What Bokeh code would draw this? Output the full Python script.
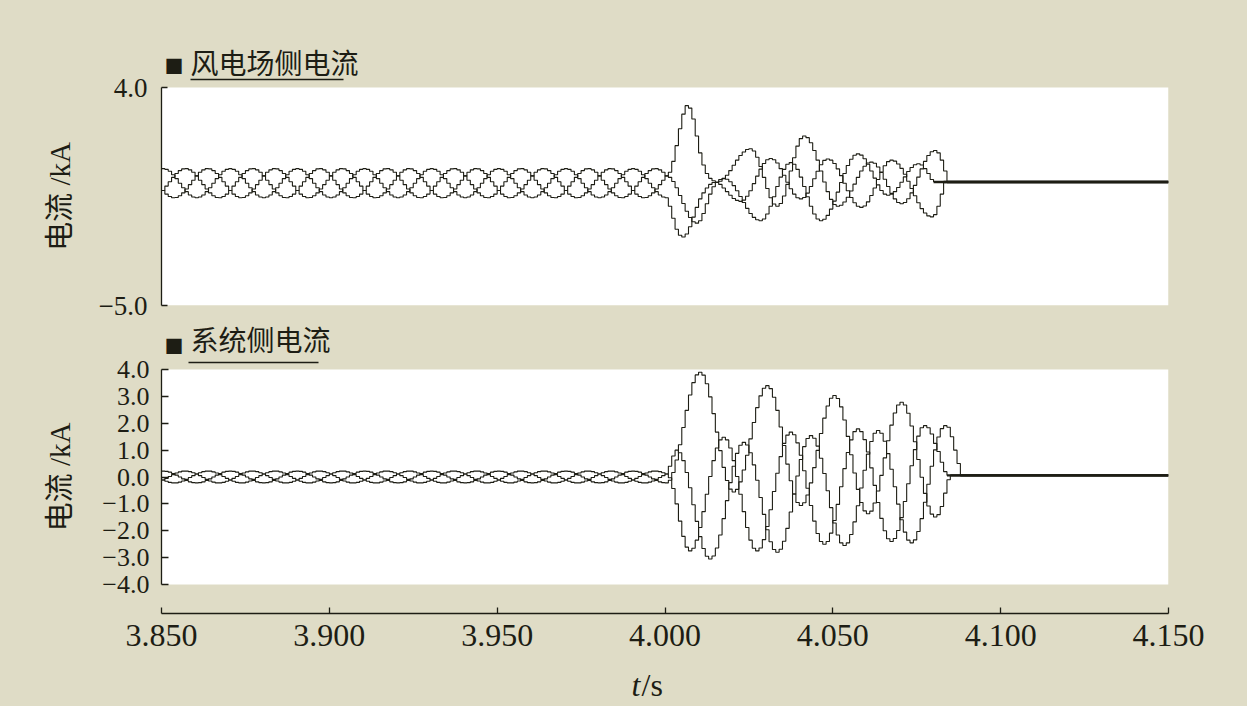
import numpy as np
from bokeh.plotting import figure
from bokeh.layouts import column, row
from bokeh.models import Range1d, FixedTicker, CustomJSTickFormatter, Label, BoxAnnotation
from bokeh.embed import file_html
from bokeh.resources import INLINE

# ---------------- data (kA), sampled every 1 ms ----------------
T_START = 3.850   # first sample
T_END = 4.150     # end of record
DT = 0.001        # sample interval (s)
X_TICKS = [3.850, 3.900, 3.950, 4.000, 4.050, 4.100, 4.150]
TOP_Y_TICKS = [-5.0, 4.0]
BOT_Y_TICKS = [-4.0, -3.0, -2.0, -1.0, 0.0, 1.0, 2.0, 3.0, 4.0]

# wind-farm side current, before the fault (3.850 .. 3.999 s)
TOP_A_PRE = [
    0.65, 0.62, 0.54, 0.40, 0.24, 0.05, -0.14, -0.30, -0.44, -0.52, -0.55, -0.52, -0.44, -0.30, -0.14, 0.05, 0.24, 0.40, 0.54, 0.62,
    0.65, 0.62, 0.54, 0.40, 0.24, 0.05, -0.14, -0.30, -0.44, -0.52, -0.55, -0.52, -0.44, -0.30, -0.14, 0.05, 0.24, 0.40, 0.54, 0.62,
    0.65, 0.62, 0.54, 0.40, 0.24, 0.05, -0.14, -0.30, -0.44, -0.52, -0.55, -0.52, -0.44, -0.30, -0.14, 0.05, 0.24, 0.40, 0.54, 0.62,
    0.65, 0.62, 0.54, 0.40, 0.24, 0.05, -0.14, -0.30, -0.44, -0.52, -0.55, -0.52, -0.44, -0.30, -0.14, 0.05, 0.24, 0.40, 0.54, 0.62,
    0.65, 0.62, 0.54, 0.40, 0.24, 0.05, -0.14, -0.30, -0.44, -0.52, -0.55, -0.52, -0.44, -0.30, -0.14, 0.05, 0.24, 0.40, 0.54, 0.62,
    0.65, 0.62, 0.54, 0.40, 0.24, 0.05, -0.14, -0.30, -0.44, -0.52, -0.55, -0.52, -0.44, -0.30, -0.14, 0.05, 0.24, 0.40, 0.54, 0.62,
    0.65, 0.62, 0.54, 0.40, 0.24, 0.05, -0.14, -0.30, -0.44, -0.52, -0.55, -0.52, -0.44, -0.30, -0.14, 0.05, 0.24, 0.40, 0.54, 0.62,
    0.65, 0.62, 0.54, 0.40, 0.24, 0.05, -0.14, -0.30, -0.44, -0.52,
]
TOP_B_PRE = [
    -0.25, -0.07, 0.11, 0.29, 0.45, 0.57, 0.64, 0.65, 0.60, 0.50, 0.35, 0.17, -0.01, -0.19, -0.35, -0.47, -0.54, -0.55, -0.50, -0.40,
    -0.25, -0.07, 0.11, 0.29, 0.45, 0.57, 0.64, 0.65, 0.60, 0.50, 0.35, 0.17, -0.01, -0.19, -0.35, -0.47, -0.54, -0.55, -0.50, -0.40,
    -0.25, -0.07, 0.11, 0.29, 0.45, 0.57, 0.64, 0.65, 0.60, 0.50, 0.35, 0.17, -0.01, -0.19, -0.35, -0.47, -0.54, -0.55, -0.50, -0.40,
    -0.25, -0.07, 0.11, 0.29, 0.45, 0.57, 0.64, 0.65, 0.60, 0.50, 0.35, 0.17, -0.01, -0.19, -0.35, -0.47, -0.54, -0.55, -0.50, -0.40,
    -0.25, -0.07, 0.11, 0.29, 0.45, 0.57, 0.64, 0.65, 0.60, 0.50, 0.35, 0.17, -0.01, -0.19, -0.35, -0.47, -0.54, -0.55, -0.50, -0.40,
    -0.25, -0.07, 0.11, 0.29, 0.45, 0.57, 0.64, 0.65, 0.60, 0.50, 0.35, 0.17, -0.01, -0.19, -0.35, -0.47, -0.54, -0.55, -0.50, -0.40,
    -0.25, -0.07, 0.11, 0.29, 0.45, 0.57, 0.64, 0.65, 0.60, 0.50, 0.35, 0.17, -0.01, -0.19, -0.35, -0.47, -0.54, -0.55, -0.50, -0.40,
    -0.25, -0.07, 0.11, 0.29, 0.45, 0.57, 0.64, 0.65, 0.60, 0.50,
]
TOP_C_PRE = [
    -0.25, -0.40, -0.50, -0.55, -0.54, -0.47, -0.35, -0.19, -0.01, 0.17, 0.35, 0.50, 0.60, 0.65, 0.64, 0.57, 0.45, 0.29, 0.11, -0.07,
    -0.25, -0.40, -0.50, -0.55, -0.54, -0.47, -0.35, -0.19, -0.01, 0.17, 0.35, 0.50, 0.60, 0.65, 0.64, 0.57, 0.45, 0.29, 0.11, -0.07,
    -0.25, -0.40, -0.50, -0.55, -0.54, -0.47, -0.35, -0.19, -0.01, 0.17, 0.35, 0.50, 0.60, 0.65, 0.64, 0.57, 0.45, 0.29, 0.11, -0.07,
    -0.25, -0.40, -0.50, -0.55, -0.54, -0.47, -0.35, -0.19, -0.01, 0.17, 0.35, 0.50, 0.60, 0.65, 0.64, 0.57, 0.45, 0.29, 0.11, -0.07,
    -0.25, -0.40, -0.50, -0.55, -0.54, -0.47, -0.35, -0.19, -0.01, 0.17, 0.35, 0.50, 0.60, 0.65, 0.64, 0.57, 0.45, 0.29, 0.11, -0.07,
    -0.25, -0.40, -0.50, -0.55, -0.54, -0.47, -0.35, -0.19, -0.01, 0.17, 0.35, 0.50, 0.60, 0.65, 0.64, 0.57, 0.45, 0.29, 0.11, -0.07,
    -0.25, -0.40, -0.50, -0.55, -0.54, -0.47, -0.35, -0.19, -0.01, 0.17, 0.35, 0.50, 0.60, 0.65, 0.64, 0.57, 0.45, 0.29, 0.11, -0.07,
    -0.25, -0.40, -0.50, -0.55, -0.54, -0.47, -0.35, -0.19, -0.01, 0.17,
]
# wind-farm side current from the fault (4.000 s) until the breaker opens; last value = residual
TOP_A_FAULT = [
    -0.55, -0.90, -1.40, -1.85, -2.10, -2.17, -2.05, -1.75, -1.35, -0.95,
    -0.60, -0.35, -0.15, 0.00, 0.08, 0.10, 0.13, 0.23, 0.38, 0.57,
    0.79, 1.00, 1.19, 1.34, 1.44, 1.47, 1.38, 1.12, 0.74, 0.29,
    -0.17, -0.55, -0.81, -0.90, -0.79, -0.48, 0.00, 0.55, 1.10, 1.58,
    1.89, 2.00, 1.93, 1.72, 1.40, 1.00, 0.55, 0.10, -0.30, -0.62,
    -0.83, -0.90, -0.86, -0.73, -0.53, -0.27, 0.01, 0.29, 0.55, 0.75,
    0.88, 0.92, 0.87, 0.72, 0.49, 0.21, -0.09, -0.37, -0.60, -0.75,
    -0.80, -0.75, -0.59, -0.35, -0.04, 0.30, 0.64, 0.95, 1.19, 1.35,
    1.40, 1.30, 1.00, 0.55, 0.10,
]
TOP_B_FAULT = [
    0.35, 0.50, 0.95, 1.60, 2.30, 2.90, 3.25, 3.15, 2.70, 2.00,
    1.30, 0.80, 0.45, 0.25, 0.15, 0.08, 0.00, -0.15, -0.30, -0.45,
    -0.58, -0.66, -0.70, -0.65, -0.49, -0.26, 0.03, 0.34, 0.63, 0.86,
    1.02, 1.07, 1.02, 0.88, 0.65, 0.38, 0.09, -0.18, -0.40, -0.55,
    -0.60, -0.54, -0.36, -0.09, 0.23, 0.54, 0.81, 0.99, 1.05, 1.00,
    0.86, 0.64, 0.36, 0.05, -0.26, -0.54, -0.76, -0.90, -0.95, -0.89,
    -0.72, -0.46, -0.15, 0.20, 0.51, 0.77, 0.94, 1.00, 0.96, 0.84,
    0.66, 0.42, 0.13, -0.17, -0.47, -0.76, -1.00, -1.18, -1.30, -1.34,
    -1.25, -0.90, -0.40, 0.10,
]
TOP_C_FAULT = [
    0.35, 0.29, 0.12, -0.14, -0.46, -0.79, -1.11, -1.37, -1.54, -1.60,
    -1.50, -1.20, -0.80, -0.40, -0.10, 0.08, 0.20, 0.25, 0.21, 0.11,
    -0.05, -0.26, -0.50, -0.75, -0.99, -1.20, -1.36, -1.46, -1.50, -1.43,
    -1.22, -0.90, -0.51, -0.09, 0.30, 0.62, 0.83, 0.90, 0.83, 0.62,
    0.30, -0.09, -0.51, -0.90, -1.22, -1.43, -1.50, -1.44, -1.28, -1.02,
    -0.69, -0.32, 0.08, 0.45, 0.78, 1.04, 1.20, 1.26, 1.21, 1.06,
    0.83, 0.55, 0.26, -0.02, -0.25, -0.40, -0.45, -0.41, -0.30, -0.13,
    0.09, 0.31, 0.53, 0.70, 0.81, 0.85, 0.80, 0.65, 0.45, 0.20,
    0.10,
]

# system side current, before the fault
BOT_A_PRE = [
    0.22, 0.21, 0.18, 0.13, 0.07, 0.00, -0.07, -0.13, -0.18, -0.21, -0.22, -0.21, -0.18, -0.13, -0.07, 0.00, 0.07, 0.13, 0.18, 0.21,
    0.22, 0.21, 0.18, 0.13, 0.07, 0.00, -0.07, -0.13, -0.18, -0.21, -0.22, -0.21, -0.18, -0.13, -0.07, 0.00, 0.07, 0.13, 0.18, 0.21,
    0.22, 0.21, 0.18, 0.13, 0.07, 0.00, -0.07, -0.13, -0.18, -0.21, -0.22, -0.21, -0.18, -0.13, -0.07, 0.00, 0.07, 0.13, 0.18, 0.21,
    0.22, 0.21, 0.18, 0.13, 0.07, 0.00, -0.07, -0.13, -0.18, -0.21, -0.22, -0.21, -0.18, -0.13, -0.07, 0.00, 0.07, 0.13, 0.18, 0.21,
    0.22, 0.21, 0.18, 0.13, 0.07, 0.00, -0.07, -0.13, -0.18, -0.21, -0.22, -0.21, -0.18, -0.13, -0.07, 0.00, 0.07, 0.13, 0.18, 0.21,
    0.22, 0.21, 0.18, 0.13, 0.07, 0.00, -0.07, -0.13, -0.18, -0.21, -0.22, -0.21, -0.18, -0.13, -0.07, 0.00, 0.07, 0.13, 0.18, 0.21,
    0.22, 0.21, 0.18, 0.13, 0.07, 0.00, -0.07, -0.13, -0.18, -0.21, -0.22, -0.21, -0.18, -0.13, -0.07, 0.00, 0.07, 0.13, 0.18, 0.21,
    0.22, 0.21, 0.18, 0.13, 0.07, 0.00, -0.07, -0.13, -0.18, -0.21,
]
BOT_B_PRE = [
    -0.11, -0.05, 0.02, 0.09, 0.15, 0.19, 0.22, 0.22, 0.20, 0.16, 0.11, 0.05, -0.02, -0.09, -0.15, -0.19, -0.22, -0.22, -0.20, -0.16,
    -0.11, -0.05, 0.02, 0.09, 0.15, 0.19, 0.22, 0.22, 0.20, 0.16, 0.11, 0.05, -0.02, -0.09, -0.15, -0.19, -0.22, -0.22, -0.20, -0.16,
    -0.11, -0.05, 0.02, 0.09, 0.15, 0.19, 0.22, 0.22, 0.20, 0.16, 0.11, 0.05, -0.02, -0.09, -0.15, -0.19, -0.22, -0.22, -0.20, -0.16,
    -0.11, -0.05, 0.02, 0.09, 0.15, 0.19, 0.22, 0.22, 0.20, 0.16, 0.11, 0.05, -0.02, -0.09, -0.15, -0.19, -0.22, -0.22, -0.20, -0.16,
    -0.11, -0.05, 0.02, 0.09, 0.15, 0.19, 0.22, 0.22, 0.20, 0.16, 0.11, 0.05, -0.02, -0.09, -0.15, -0.19, -0.22, -0.22, -0.20, -0.16,
    -0.11, -0.05, 0.02, 0.09, 0.15, 0.19, 0.22, 0.22, 0.20, 0.16, 0.11, 0.05, -0.02, -0.09, -0.15, -0.19, -0.22, -0.22, -0.20, -0.16,
    -0.11, -0.05, 0.02, 0.09, 0.15, 0.19, 0.22, 0.22, 0.20, 0.16, 0.11, 0.05, -0.02, -0.09, -0.15, -0.19, -0.22, -0.22, -0.20, -0.16,
    -0.11, -0.05, 0.02, 0.09, 0.15, 0.19, 0.22, 0.22, 0.20, 0.16,
]
BOT_C_PRE = [
    -0.11, -0.16, -0.20, -0.22, -0.22, -0.19, -0.15, -0.09, -0.02, 0.05, 0.11, 0.16, 0.20, 0.22, 0.22, 0.19, 0.15, 0.09, 0.02, -0.05,
    -0.11, -0.16, -0.20, -0.22, -0.22, -0.19, -0.15, -0.09, -0.02, 0.05, 0.11, 0.16, 0.20, 0.22, 0.22, 0.19, 0.15, 0.09, 0.02, -0.05,
    -0.11, -0.16, -0.20, -0.22, -0.22, -0.19, -0.15, -0.09, -0.02, 0.05, 0.11, 0.16, 0.20, 0.22, 0.22, 0.19, 0.15, 0.09, 0.02, -0.05,
    -0.11, -0.16, -0.20, -0.22, -0.22, -0.19, -0.15, -0.09, -0.02, 0.05, 0.11, 0.16, 0.20, 0.22, 0.22, 0.19, 0.15, 0.09, 0.02, -0.05,
    -0.11, -0.16, -0.20, -0.22, -0.22, -0.19, -0.15, -0.09, -0.02, 0.05, 0.11, 0.16, 0.20, 0.22, 0.22, 0.19, 0.15, 0.09, 0.02, -0.05,
    -0.11, -0.16, -0.20, -0.22, -0.22, -0.19, -0.15, -0.09, -0.02, 0.05, 0.11, 0.16, 0.20, 0.22, 0.22, 0.19, 0.15, 0.09, 0.02, -0.05,
    -0.11, -0.16, -0.20, -0.22, -0.22, -0.19, -0.15, -0.09, -0.02, 0.05, 0.11, 0.16, 0.20, 0.22, 0.22, 0.19, 0.15, 0.09, 0.02, -0.05,
    -0.11, -0.16, -0.20, -0.22, -0.22, -0.19, -0.15, -0.09, -0.02, 0.05,
]
BOT_A_FAULT = [
    -0.22, -0.12, 0.17, 0.63, 1.20, 1.84, 2.48, 3.05, 3.51, 3.80,
    3.90, 3.79, 3.47, 2.98, 2.36, 1.67, 0.98, 0.36, -0.13, -0.45,
    -0.56, -0.46, -0.18, 0.26, 0.81, 1.42, 2.03, 2.58, 3.02, 3.30,
    3.40, 3.29, 2.97, 2.48, 1.86, 1.17, 0.48, -0.14, -0.63, -0.95,
    -1.06, -0.96, -0.67, -0.22, 0.35, 0.99, 1.62, 2.19, 2.64, 2.93,
    3.03, 2.92, 2.61, 2.12, 1.51, 0.83, 0.15, -0.46, -0.95, -1.26,
    -1.37, -1.27, -0.97, -0.52, 0.06, 0.71, 1.35, 1.93, 2.38, 2.68,
    2.78, 2.68, 2.37, 1.90, 1.31, 0.65, -0.01, -0.61, -1.08, -1.38,
    -1.49, -1.40, -1.10, -0.60, -0.10, 0.06,
]
BOT_B_FAULT = [
    0.11, -0.03, -0.43, -1.00, -1.64, -2.21, -2.61, -2.75, -2.65, -2.35,
    -1.88, -1.29, -0.64, 0.02, 0.61, 1.08, 1.38, 1.48, 1.38, 1.08,
    0.61, 0.02, -0.64, -1.29, -1.88, -2.35, -2.65, -2.75, -2.64, -2.33,
    -1.84, -1.22, -0.54, 0.14, 0.76, 1.25, 1.56, 1.67, 1.57, 1.27,
    0.81, 0.23, -0.42, -1.06, -1.64, -2.10, -2.40, -2.50, -2.40, -2.09,
    -1.62, -1.02, -0.36, 0.31, 0.91, 1.38, 1.69, 1.79, 1.69, 1.39,
    0.93, 0.34, -0.31, -0.95, -1.54, -2.00, -2.30, -2.40, -2.29, -1.99,
    -1.51, -0.91, -0.25, 0.42, 1.02, 1.52, 1.83, 1.91, 1.83, 1.60,
    1.25, 0.95, 0.55, 0.20, 0.06,
]
BOT_C_FAULT = [
    0.11, 0.40, 0.78, 1.00, 0.90, 0.61, 0.17, -0.40, -1.03, -1.65,
    -2.22, -2.66, -2.95, -3.05, -2.94, -2.64, -2.16, -1.55, -0.88, -0.21,
    0.40, 0.88, 1.18, 1.29, 1.19, 0.90, 0.45, -0.12, -0.76, -1.39,
    -1.96, -2.41, -2.70, -2.80, -2.69, -2.39, -1.91, -1.30, -0.63, 0.04,
    0.65, 1.13, 1.43, 1.54, 1.44, 1.15, 0.70, 0.13, -0.51, -1.14,
    -1.71, -2.16, -2.45, -2.55, -2.45, -2.14, -1.67, -1.07, -0.41, 0.25,
    0.85, 1.32, 1.63, 1.73, 1.63, 1.33, 0.87, 0.29, -0.36, -1.01,
    -1.59, -2.05, -2.35, -2.45, -2.34, -2.03, -1.55, -0.94, -0.27, 0.40,
    1.01, 1.49, 1.80, 1.91, 1.85, 1.50, 1.00, 0.50, 0.06,
]

TOP_TITLE = "风电场侧电流"
BOT_TITLE = "系统侧电流"
Y_LABEL = "电流 /kA"
X_LABEL_T = "t"
X_LABEL_UNIT = "/s"
MARK = "■"

# ---------------- styling / layout (pixels) ----------------
BG = "#dfdcc6"
INK = "#1d1d14"
SERIF = "'Liberation Serif', 'Noto Sans CJK SC'"
CJK = "'Noto Sans CJK SC'"
PAGE_W = 1247
SIDE_W = 90                       # column holding the rotated y labels
FRAME_L, FRAME_R = 161, 1168      # plotting area, left/right edges on the page
ROW1_H, ROW2_H, FOOT_H = 320, 340, 46
TOP_WHITE = (87, 305)             # page y of 4.0 and -5.0 in the top panel
BOT_WHITE = (369, 584)            # page y of 4.0 and -4.0 in the bottom panel
BOT_AXIS_Y = 613                  # page y of the time axis


def series(pre, fault):
    y = list(pre) + list(fault)
    t = list(T_START + DT * np.arange(len(y)))
    return t, y


def plain_fig(w, h):
    f = figure(width=w, height=h, x_range=Range1d(0, 1), y_range=Range1d(0, 1), output_backend="svg",
               toolbar_location=None, x_axis_location=None, y_axis_location=None,
               min_border=0, min_border_left=0, min_border_right=0, min_border_top=0, min_border_bottom=0,
               background_fill_color=BG, border_fill_color=BG, outline_line_color=None)
    f.grid.visible = False
    return f


def style_y(ax, ticks, size, tick_in, standoff):
    ax.ticker = FixedTicker(ticks=ticks)
    ax.bounds = (ticks[0], ticks[-1])
    ax.formatter = CustomJSTickFormatter(code="return (tick < 0 ? '\u2212' : '') + Math.abs(tick).toFixed(1);")
    ax.minor_tick_line_color = None
    ax.major_tick_in = tick_in
    ax.major_tick_out = 0
    ax.axis_line_color = INK
    ax.axis_line_width = 1.3
    ax.major_tick_line_color = INK
    ax.major_tick_line_width = 1.3
    ax.major_label_text_font = SERIF
    ax.major_label_text_font_size = size
    ax.major_label_text_color = INK
    ax.major_label_standoff = standoff


def add_title(p, frame_bottom_page, title, title_cy, mark_cy, ul_x, ul_y):
    fy = lambda page_y: frame_bottom_page - page_y
    p.add_layout(Label(x=12.5, y=fy(mark_cy), x_units="screen", y_units="screen", text=MARK, text_font=CJK,
                       text_font_size="19px", text_color=INK, text_align="center", text_baseline="middle"))
    p.add_layout(Label(x=29, y=fy(title_cy), x_units="screen", y_units="screen", text=title, text_font=CJK,
                       text_font_size="28px", text_color=INK, text_align="left", text_baseline="middle"))
    p.add_layout(BoxAnnotation(left=ul_x[0], right=ul_x[1], bottom=fy(ul_y) - 0.8, top=fy(ul_y) + 0.8,
                               left_units="screen", right_units="screen", bottom_units="screen",
                               top_units="screen", fill_color=INK, fill_alpha=1, line_color=None))


x_range = Range1d(T_START, T_END)
main_w = PAGE_W - SIDE_W
bl, br = FRAME_L - SIDE_W, PAGE_W - FRAME_R

# ---- top panel: frame spans page y 0..305 (beige above the white plot area) ----
u1 = (TOP_WHITE[1] - TOP_WHITE[0]) / (TOP_Y_TICKS[-1] - TOP_Y_TICKS[0])
top_frame_bottom = TOP_WHITE[1]
p1 = figure(width=main_w, height=ROW1_H, x_range=x_range,
            y_range=Range1d(TOP_Y_TICKS[0], TOP_Y_TICKS[-1] + TOP_WHITE[0] / u1),
            output_backend="svg", toolbar_location=None, x_axis_location=None,
            min_border_left=bl, min_border_right=br, min_border_top=0,
            min_border_bottom=ROW1_H - top_frame_bottom,
            background_fill_color=BG, border_fill_color=BG, outline_line_color=None)
p1.grid.visible = False
p1.add_layout(BoxAnnotation(bottom=TOP_Y_TICKS[0], top=TOP_Y_TICKS[-1], fill_color="white", fill_alpha=1,
                            line_color=None, level="underlay"))
style_y(p1.yaxis[0], TOP_Y_TICKS, "27px", 6, 14)
for pre, flt in ((TOP_A_PRE, TOP_A_FAULT), (TOP_B_PRE, TOP_B_FAULT), (TOP_C_PRE, TOP_C_FAULT)):
    t, y = series(pre, flt)
    p1.step(t, y, mode="after", line_color=INK, line_width=1.1)
    p1.line([t[-1], T_END], [y[-1], y[-1]], line_color=INK, line_width=2.4)
add_title(p1, top_frame_bottom, TOP_TITLE, 61, 65, (29, 182), 79)

# side figures: their frames are aligned with the neighbouring panel's frame by the row layout
side1 = plain_fig(SIDE_W, ROW1_H)
side1.add_layout(Label(x=59, y=top_frame_bottom - (TOP_WHITE[0] + TOP_WHITE[1]) / 2, x_units="screen",
                       y_units="screen", text=Y_LABEL, text_font=SERIF, text_font_size="29px", text_color=INK,
                       text_align="center", text_baseline="middle", angle=np.pi / 2))

# ---- bottom panel: frame spans page y 320..613 ----
u2 = (BOT_WHITE[1] - BOT_WHITE[0]) / (BOT_Y_TICKS[-1] - BOT_Y_TICKS[0])
row2_top = ROW1_H
bot_frame_bottom = BOT_AXIS_Y
p2 = figure(width=main_w, height=ROW2_H, x_range=x_range,
            y_range=Range1d(BOT_Y_TICKS[0] - (BOT_AXIS_Y - BOT_WHITE[1]) / u2,
                            BOT_Y_TICKS[-1] + (BOT_WHITE[0] - row2_top) / u2),
            output_backend="svg", toolbar_location=None,
            min_border_left=bl, min_border_right=br, min_border_top=0,
            min_border_bottom=row2_top + ROW2_H - BOT_AXIS_Y,
            background_fill_color=BG, border_fill_color=BG, outline_line_color=None)
p2.grid.visible = False
p2.add_layout(BoxAnnotation(bottom=BOT_Y_TICKS[0], top=BOT_Y_TICKS[-1], fill_color="white", fill_alpha=1,
                            line_color=None, level="underlay"))
style_y(p2.yaxis[0], BOT_Y_TICKS, "26px", 7, 12)
xb = p2.xaxis[0]
xb.ticker = FixedTicker(ticks=X_TICKS)
xb.formatter = CustomJSTickFormatter(code="return tick.toFixed(3);")
xb.minor_tick_line_color = None
xb.major_tick_in = 6
xb.major_tick_out = 0
xb.axis_line_color = INK
xb.axis_line_width = 1.3
xb.major_tick_line_color = INK
xb.major_tick_line_width = 1.3
xb.major_label_text_font = SERIF
xb.major_label_text_font_size = "32px"
xb.major_label_text_color = INK
xb.major_label_standoff = 11
for pre, flt in ((BOT_A_PRE, BOT_A_FAULT), (BOT_B_PRE, BOT_B_FAULT), (BOT_C_PRE, BOT_C_FAULT)):
    t, y = series(pre, flt)
    p2.step(t, y, mode="after", line_color=INK, line_width=1.1)
    p2.line([t[-1], T_END], [y[-1], y[-1]], line_color=INK, line_width=2.4)
add_title(p2, bot_frame_bottom, BOT_TITLE, 338, 345, (27, 157), 362)

side2 = plain_fig(SIDE_W, ROW2_H)
side2.add_layout(Label(x=59, y=bot_frame_bottom - (BOT_WHITE[0] + BOT_WHITE[1]) / 2, x_units="screen",
                       y_units="screen", text=Y_LABEL, text_font=SERIF, text_font_size="29px", text_color=INK,
                       text_align="center", text_baseline="middle", angle=np.pi / 2))

# ---- footer with the time-axis title ----
foot = plain_fig(PAGE_W, FOOT_H)
foot.add_layout(Label(x=640, y=22, x_units="screen", y_units="screen", text=X_LABEL_T, text_font=SERIF,
                      text_font_style="italic", text_font_size="32px", text_color=INK, text_align="right",
                      text_baseline="middle"))
foot.add_layout(Label(x=641, y=22, x_units="screen", y_units="screen", text=X_LABEL_UNIT, text_font=SERIF,
                      text_font_size="32px", text_color=INK, text_align="left", text_baseline="middle"))

layout = column(row(side1, p1, spacing=0), row(side2, p2, spacing=0), foot, spacing=0,
                styles={"background-color": BG})

html = file_html(layout, INLINE, title="currents")
html = html.replace("</head>", "<style>html, body {background-color: %s;}</style></head>" % BG, 1)
with open("out.html", "w") as f:
    f.write(html)
